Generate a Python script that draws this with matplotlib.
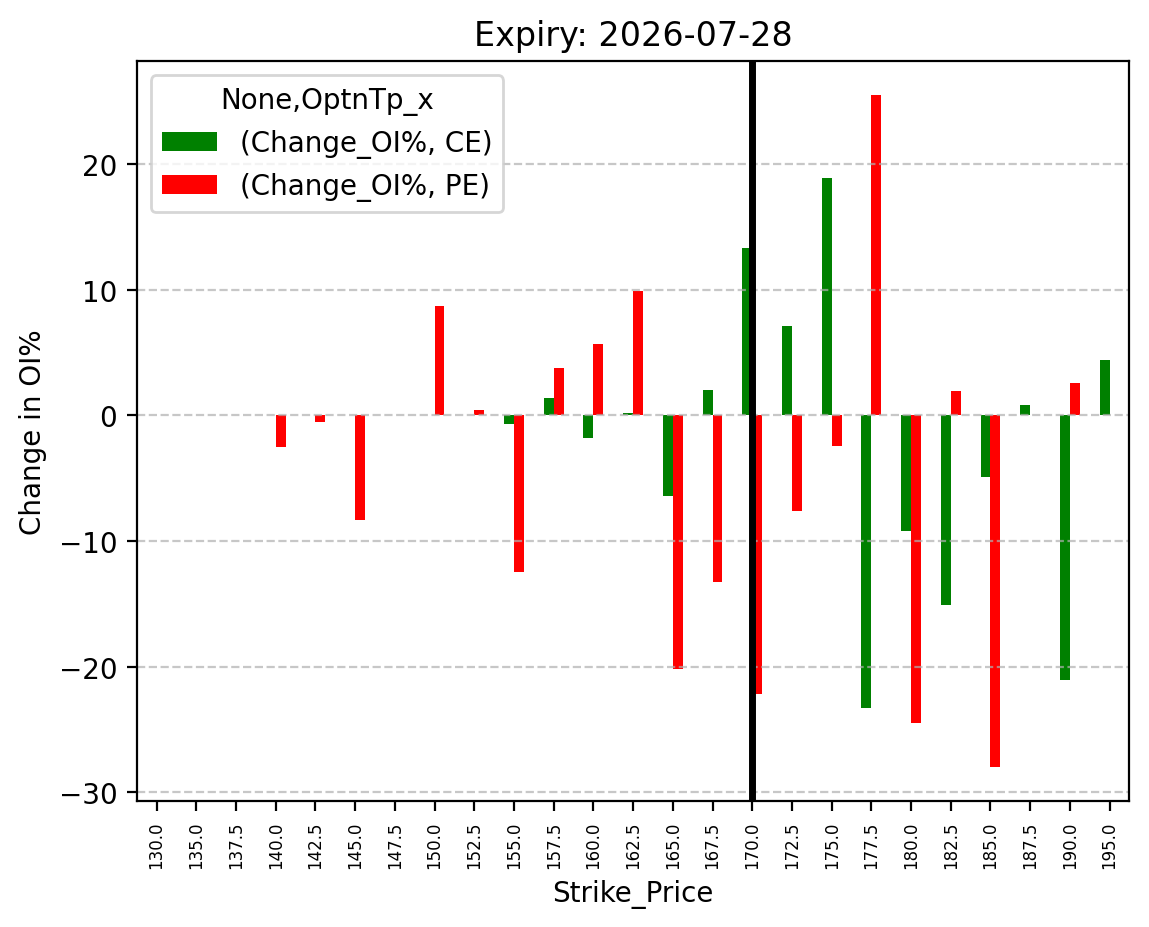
import numpy as np
import pandas as pd
import matplotlib
matplotlib.use('Agg')
import matplotlib.pyplot as plt

nan = np.nan
strikes = [130.0, 135.0, 137.5, 140.0, 142.5, 145.0, 147.5, 150.0, 152.5, 155.0,
           157.5, 160.0, 162.5, 165.0, 167.5, 170.0, 172.5, 175.0, 177.5, 180.0,
           182.5, 185.0, 187.5, 190.0, 195.0]
ce_change = [nan, nan, nan, nan, nan, nan, nan, nan, nan, -0.7,
             1.4, -1.8, 0.15, -6.4, 2.0, 13.3, 7.1, 18.9, -23.3, -9.2,
             -15.1, -4.9, 0.8, -21.1, 4.4]
pe_change = [nan, nan, nan, -2.55, -0.55, -8.3, nan, 8.7, 0.4, -12.5,
             3.8, 5.7, 9.9, -20.2, -13.3, -22.15, -7.6, -2.45, 25.5, -24.5,
             1.9, -28.0, nan, 2.55, nan]
expiry = '2026-07-28'
spot_strike = 170.0


def main():
    cols = pd.MultiIndex.from_tuples([('Change_OI%', 'CE'), ('Change_OI%', 'PE')],
                                     names=[None, 'OptnTp_x'])
    df = pd.DataFrame(np.column_stack([ce_change, pe_change]),
                      index=pd.Index(strikes, name='Strike_Price'), columns=cols)

    fig = plt.figure(figsize=(5.745, 4.64), dpi=200)
    ax = fig.add_axes([0.119, 0.136, 0.864, 0.797])
    df.plot(kind='bar', ax=ax, color=['green', 'red'])

    ax.axvline(strikes.index(spot_strike), color='black', linewidth=2.5)
    ax.grid(axis='y', linestyle='--', alpha=0.7)
    ax.tick_params(axis='x', labelsize=6)
    ax.set_title("Expiry: %s" % expiry)
    ax.set_ylabel("Change in OI%")
    ax.set_xlabel("Strike_Price")

    fig.savefig('out.png', dpi=200)


if __name__ == "__main__":
    main()
